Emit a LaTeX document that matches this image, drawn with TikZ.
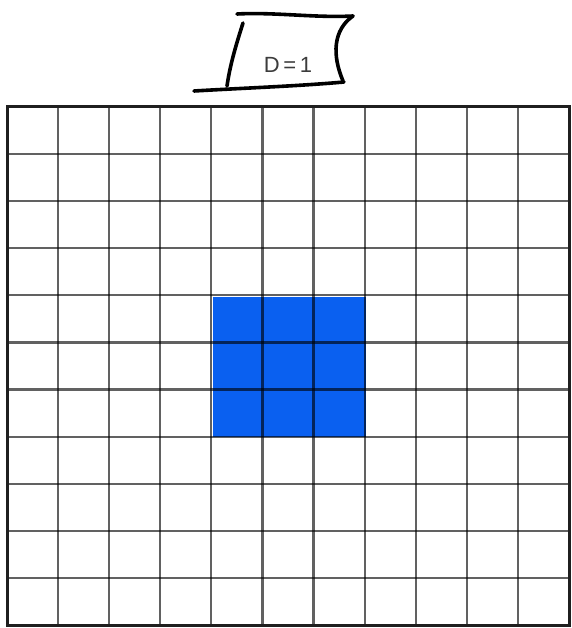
\documentclass[tikz,border=0pt]{standalone}
\usepackage{fontspec}
\setmainfont{Liberation Sans}
\definecolor{cellblue}{RGB}{10,96,240}
\definecolor{labelgray}{RGB}{60,60,60}
\begin{document}
\begin{tikzpicture}[x=1pt,y=-1pt,
  gridline/.style={draw=black,draw opacity=0.62,line width=2.2pt},
  border/.style={draw=black!88,line width=3pt},
  hand/.style={draw=black,line width=3.6pt,line cap=round,line join=round},
  lbl/.style={font=\fontsize{22}{26}\selectfont,text=labelgray,inner sep=0pt}]
\useasboundingbox (0,0) rectangle (571,628);
% blue block
\fill[cellblue] (213.4,296.7) rectangle (366.4,437.4);
% grid
\foreach \i in {1,...,10} {
  \path[gridline] ({7+\i*51.09},107) -- ({7+\i*51.09},625);
  \path[gridline] (7,{107+\i*47.09}) -- (569,{107+\i*47.09});
}
\path[border] (7,107) rectangle (569,625);
% label with hand-drawn frame
\node[lbl] (d) at (288,65) {D\,=\,1};
\path[hand] (237,14) .. controls (275,12) and (315,18) .. (353,16);
\path[hand] (353,16) .. controls (333,30) and (332,55) .. (343,81);
\path[hand] (243,23) .. controls (236,45) and (230,65) .. (227,86);
\path[hand] (194,91) .. controls (245,88) and (300,86) .. (344,82);
\end{tikzpicture}
\end{document}
